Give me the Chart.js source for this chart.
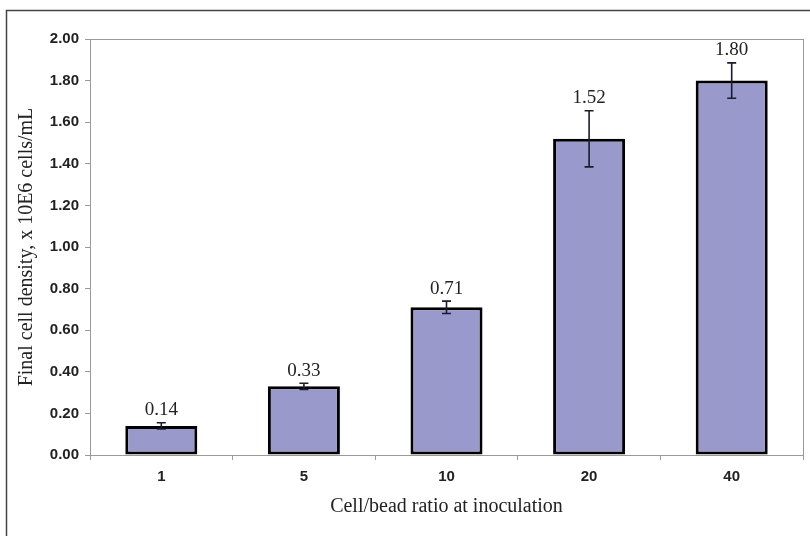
<!DOCTYPE html>
<html>
<head>
<meta charset="utf-8">
<script src="https://cdn.jsdelivr.net/npm/chart.js@4"></script>
<style>
  html, body { margin: 0; padding: 0; background: #fff; }
  #wrap { width: 810px; height: 536px; position: relative; }
</style>
</head>
<body>
<div id="wrap"><canvas id="cellChart"></canvas></div>
<script>
// data
const ratios = ['1', '5', '10', '20', '40'];
const densities = [0.14, 0.33, 0.71, 1.52, 1.80];
const errors = [0.015, 0.015, 0.03, 0.135, 0.085];
const yTicks = [0, 0.2, 0.4, 0.6, 0.8, 1.0, 1.2, 1.4, 1.6, 1.8, 2.0];

// outer frame + plot box
const framePlugin = {
    id: 'frame',
    beforeDraw(chart) {
        const ctx = chart.ctx;
        ctx.save();
        ctx.fillStyle = '#fff';
        ctx.fillRect(0, 0, chart.width, chart.height);
        ctx.strokeStyle = '#444';
        ctx.lineWidth = 1.5;
        ctx.strokeRect(6.5, 10.5, 900, 900);
        ctx.restore();
    },
    beforeDatasetsDraw(chart) {
        const a = chart.chartArea;
        const ctx = chart.ctx;
        ctx.save();
        ctx.strokeStyle = '#9a9a9a';
        ctx.lineWidth = 1;
        ctx.strokeRect(a.left + 0.5, a.top + 0.5, a.right - a.left, a.bottom - a.top);
        ctx.restore();
    }
};

// error bars and value labels
const errorPlugin = {
    id: 'errorBars',
    afterDatasetsDraw(chart) {
        const ctx = chart.ctx;
        const y = chart.scales.y;
        const meta = chart.getDatasetMeta(0);
        ctx.save();
        meta.data.forEach((bar, i) => {
            const v = densities[i], e = errors[i];
            const top = y.getPixelForValue(v + e);
            const bot = y.getPixelForValue(v - e);
            ctx.strokeStyle = '#1c1c2e';
            ctx.lineWidth = 1.6;
            ctx.beginPath();
            ctx.moveTo(bar.x, top); ctx.lineTo(bar.x, bot);
            ctx.moveTo(bar.x - 4.5, top); ctx.lineTo(bar.x + 4.5, top);
            ctx.moveTo(bar.x - 4.5, bot); ctx.lineTo(bar.x + 4.5, bot);
            ctx.stroke();
            ctx.fillStyle = '#222';
            ctx.font = '19px "Liberation Serif", "Times New Roman", serif';
            ctx.textAlign = 'center';
            ctx.textBaseline = 'bottom';
            ctx.fillText(densities[i].toFixed(2), bar.x, top - 3);
        });
        ctx.restore();
    }
};

new Chart(document.getElementById('cellChart'), {
    type: 'bar',
    data: {
        labels: ratios,
        datasets: [{
            data: densities,
            backgroundColor: '#9999cc',
            borderColor: '#000',
            borderWidth: 3,
            borderSkipped: false,
            barPercentage: 0.505,
            categoryPercentage: 1
        }]
    },
    options: {
        responsive: true,
        maintainAspectRatio: false,
        animation: false,
        layout: { padding: { left: 15, top: 39, right: 7, bottom: 12 } },
        plugins: { legend: { display: false }, tooltip: { enabled: false } },
        scales: {
            x: {
                afterFit(scale) { scale.height = 69; },
                grid: { display: true, drawOnChartArea: false, tickLength: 5, color: '#9a9a9a' },
                border: { color: '#9a9a9a' },
                ticks: { color: '#222', font: { family: 'Liberation Sans, Arial', size: 15, weight: 'bold' }, padding: 8 },
                title: {
                    display: true,
                    text: 'Cell/bead ratio at inoculation',
                    color: '#222',
                    font: { family: '"Liberation Serif", "Times New Roman", serif', size: 20 },
                    padding: { top: 4, bottom: 5 }
                }
            },
            y: {
                min: 0,
                max: 2,
                afterFit(scale) { scale.width = 75; },
                afterBuildTicks(scale) { scale.ticks = yTicks.map(v => ({ value: v })); },
                grid: { drawOnChartArea: false, tickLength: 5, color: '#9a9a9a' },
                border: { color: '#9a9a9a' },
                ticks: {
                    color: '#222',
                    font: { family: 'Liberation Sans, Arial', size: 15, weight: 'bold' },
                    padding: 6,
                    callback: v => Number(v).toFixed(2)
                },
                title: {
                    display: true,
                    text: 'Final cell density, x 10E6 cells/mL',
                    color: '#222',
                    font: { family: '"Liberation Serif", "Times New Roman", serif', size: 20 },
                    padding: { top: 0, bottom: 0 }
                }
            }
        }
    },
    plugins: [framePlugin, errorPlugin]
});
</script>
</body>
</html>
